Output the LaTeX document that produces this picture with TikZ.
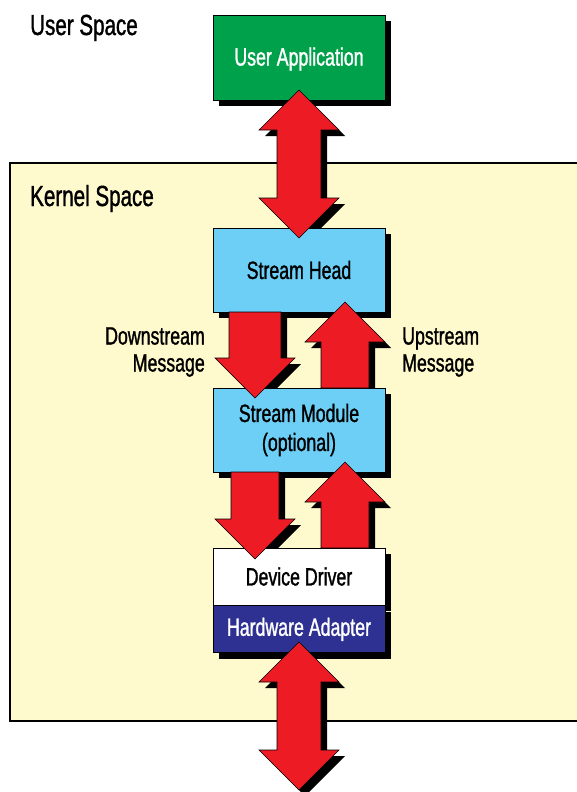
\documentclass[tikz,border=0pt]{standalone}
\usepackage{fontspec}
\setmainfont{Liberation Sans}[FakeStretch=0.71, FakeBold=1.2]
\usetikzlibrary{calc,positioning,shadows}

\definecolor{appgreen}{HTML}{00A14B}
\definecolor{streamblue}{HTML}{6DCFF6}
\definecolor{hwblue}{HTML}{2E3192}
\definecolor{arrred}{HTML}{ED1C24}
\definecolor{kernelyellow}{HTML}{FFFACD}

% single block arrow: style, tail, tip, half shaft width
\newcommand{\blkarrow}[4]{%
  \path[#1] let \p1=(#2), \p2=(#3), \p3=($(#3)!40pt!(#2)$) in
    (\x2-#4,\y1) -- (\x2-#4,\y3) -- (\x2-40pt,\y3) -- (\x2,\y2)
    -- (\x2+40pt,\y3) -- (\x2+#4,\y3) -- (\x2+#4,\y1) -- cycle;}
% double block arrow: style, upper tip, lower tip, half shaft width
\newcommand{\dblarrow}[4]{%
  \path[#1] let \p1=(#2), \p2=(#3), \p3=($(#2)!40pt!(#3)$), \p4=($(#3)!40pt!(#2)$) in
    (\x1,\y1) -- (\x1+40pt,\y3) -- (\x1+#4,\y3) -- (\x1+#4,\y4) -- (\x1+40pt,\y4)
    -- (\x1,\y2) -- (\x1-40pt,\y4) -- (\x1-#4,\y4) -- (\x1-#4,\y3) -- (\x1-40pt,\y3) -- cycle;}

\begin{document}
\begin{tikzpicture}[x=1pt, y=-1pt,
  box/.style={draw=black, line width=0.8pt, minimum width=172pt, inner sep=0pt,
    font=\fontsize{25}{29}\selectfont,
    drop shadow={shadow xshift=6pt, shadow yshift=-6pt, fill=black, opacity=1}},
  space/.style={anchor=base west, inner sep=0pt, font=\fontsize{29}{32}\selectfont},
  msg/.style={inner sep=0pt, font=\fontsize{25}{27}\selectfont},
  arrshadow/.style={fill=black, transform canvas={shift={(6pt,-6pt)}}},
  arrbody/.style={fill=arrred, draw=black, line width=0.6pt, line join=miter}]
  \useasboundingbox (0,0) rectangle (576,792);

  % kernel area
  \draw[fill=kernelyellow, line width=2pt] (10,163) rectangle (600,721);
  \node[space] (user) at (30,35) {User Space};
  \node[space] (kernel) at (30,206) {Kernel Space};

  \node[msg, align=right, anchor=east] (down) at (205,352) {Downstream\\Message};
  \node[msg, align=left, anchor=west] (up) at (402,352) {Upstream\\Message};

  % end points of the arrows
  \coordinate (appin)  at (299,90);
  \coordinate (headin) at (299,238);
  \coordinate (d1a) at (255,312);
  \coordinate (d1b) at (255,398);
  \coordinate (u1a) at (345,388);
  \coordinate (u1b) at (345,302);
  \coordinate (d2a) at (255,472);
  \coordinate (d2b) at (255,559);
  \coordinate (u2a) at (345,548);
  \coordinate (u2b) at (345,462);
  \coordinate (hwout) at (299,642);
  \coordinate (bus) at (299,790);

  \dblarrow{arrshadow}{appin}{headin}{22pt}
  \blkarrow{arrshadow}{d1a}{d1b}{26pt}
  \blkarrow{arrshadow}{u1a}{u1b}{24pt}
  \blkarrow{arrshadow}{d2a}{d2b}{24pt}
  \blkarrow{arrshadow}{u2a}{u2b}{24pt}
  \dblarrow{arrshadow}{hwout}{bus}{22pt}

  \node[box, fill=appgreen, text=white, minimum height=85pt, text depth=2pt] (app) at (299,57.5) {User Application};
  \node[box, fill=streamblue, minimum height=84pt] (head) at (299,270) {Stream Head};
  \node[box, fill=streamblue, minimum height=84pt, align=center] (module) at (299,430)
    {Stream Module\\(optional)};
  \node[box, fill=white, minimum height=57pt] (driver) at (299,576.5) {Device Driver};
  \node[box, fill=hwblue, text=white, minimum height=47pt, below=0pt of driver] (hw) {Hardware Adapter};

  \dblarrow{arrbody}{appin}{headin}{22pt}
  \blkarrow{arrbody}{d1a}{d1b}{26pt}
  \blkarrow{arrbody}{u1a}{u1b}{24pt}
  \blkarrow{arrbody}{d2a}{d2b}{24pt}
  \blkarrow{arrbody}{u2a}{u2b}{24pt}
  \dblarrow{arrbody}{hwout}{bus}{22pt}
\end{tikzpicture}
\end{document}
